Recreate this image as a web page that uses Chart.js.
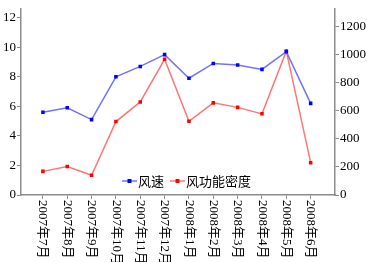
<!DOCTYPE html>
<html>
<head>
<meta charset="utf-8">
<script src="https://cdn.jsdelivr.net/npm/chart.js@4/dist/chart.umd.min.js"></script>
<style>
  html, body { margin: 0; padding: 0; background: #fff; }
  canvas { display: block; }
</style>
</head>
<body>
<canvas id="c" width="367" height="262"></canvas>
<script>
// data
const months = ['2007年7月', '2007年8月', '2007年9月', '2007年10月', '2007年11月', '2007年12月',
                '2008年1月', '2008年2月', '2008年3月', '2008年4月', '2008年5月', '2008年6月'];
const windSpeed = [5.6, 5.9, 5.1, 8.0, 8.7, 9.5, 7.9, 8.9, 8.8, 8.5, 9.7, 6.2];
const powerDensity = [168, 202, 140, 522, 662, 965, 524, 655, 623, 577, 1023, 230];
const leftTicks = [0, 2, 4, 6, 8, 10, 12];
const rightTicks = [0, 200, 400, 600, 800, 1000, 1200];

const seriesNames = ['风速', '风功能密度'];
const lineColors = ['#7272ff', '#ff7676'];
const dotColors = ['#0000ff', '#ff0000'];

const axisGray = '#8c8c8c';

// x labels read top-to-bottom, so draw them ourselves
const monthLabels = {
  id: 'monthLabels',
  afterDraw(chart) {
    const { ctx } = chart;
    const xs = chart.scales.x;
    ctx.save();
    ctx.font = '13px "Liberation Serif", "Noto Sans CJK SC", serif';
    ctx.fillStyle = '#000';
    ctx.textAlign = 'left';
    ctx.textBaseline = 'middle';
    months.forEach((m, i) => {
      const px = xs.getPixelForValue(i);
      ctx.save();
      ctx.translate(px, xs.top + 5);
      ctx.rotate(Math.PI / 2);
      ctx.fillText(m, 0, 0);
      ctx.restore();
    });
    ctx.restore();
  }
};

// legend sits inside the plot, near the bottom
const innerLegend = {
  id: 'innerLegend',
  afterDraw(chart) {
    const { ctx } = chart;
    const y = 181;
    let x = 122;
    ctx.save();
    ctx.font = '13px "Noto Sans CJK SC", sans-serif';
    ctx.textBaseline = 'middle';
    seriesNames.forEach((name, i) => {
      ctx.strokeStyle = lineColors[i];
      ctx.lineWidth = 1.5;
      ctx.beginPath();
      ctx.moveTo(x, y);
      ctx.lineTo(x + 15, y);
      ctx.stroke();
      ctx.fillStyle = dotColors[i];
      ctx.fillRect(x + 5.5, y - 2, 4, 4);
      ctx.fillStyle = '#000';
      ctx.fillText(name, x + 16, y);
      x += 16 + ctx.measureText(name).width + 6;
    });
    ctx.restore();
  }
};

function onlyTicks(list) {
  return scale => { scale.ticks = list.map(v => ({ value: v })); };
}

const tickFont = { family: '"Liberation Serif", serif', size: 13 };

new Chart(document.getElementById('c'), {
  type: 'line',
  data: {
    datasets: [
      {
        label: seriesNames[0],
        data: windSpeed.map((v, i) => ({ x: i, y: v })),
        yAxisID: 'y',
        borderColor: lineColors[0],
        borderWidth: 1.5,
        pointStyle: 'rect',
        pointRadius: 2.5,
        pointBackgroundColor: dotColors[0],
        pointBorderColor: dotColors[0],
        pointBorderWidth: 0
      },
      {
        label: seriesNames[1],
        data: powerDensity.map((v, i) => ({ x: i, y: v })),
        yAxisID: 'y1',
        borderColor: lineColors[1],
        borderWidth: 1.5,
        pointStyle: 'rect',
        pointRadius: 2.5,
        pointBackgroundColor: dotColors[1],
        pointBorderColor: dotColors[1],
        pointBorderWidth: 0
      }
    ]
  },
  options: {
    responsive: false,
    animation: false,
    layout: { padding: { top: 3, left: 0, right: 0, bottom: 0 } },
    plugins: { legend: { display: false }, tooltip: { enabled: false } },
    scales: {
      x: {
        type: 'linear',
        min: -0.9,
        max: 12,
        afterBuildTicks: onlyTicks(months.map((_, i) => i)),
        afterFit: s => { s.height = 67; },
        ticks: { display: false },
        grid: { drawOnChartArea: false, color: axisGray, tickLength: 4, lineWidth: 1 },
        border: { color: axisGray, width: 1.5 }
      },
      y: {
        position: 'left',
        min: 0,
        max: 12.6,
        afterBuildTicks: onlyTicks(leftTicks),
        afterFit: s => { s.width = 21; },
        ticks: { color: '#000', font: tickFont, padding: 1, callback: v => String(v) },
        grid: { drawOnChartArea: false, color: axisGray, tickLength: 4, lineWidth: 1 },
        border: { color: axisGray, width: 1.5 }
      },
      y1: {
        position: 'right',
        min: 0,
        max: 1324,
        afterBuildTicks: onlyTicks(rightTicks),
        afterFit: s => { s.width = 32; },
        ticks: { color: '#000', font: tickFont, padding: 1, callback: v => String(v) },
        grid: { drawOnChartArea: false, color: axisGray, tickLength: 4, lineWidth: 1 },
        border: { color: axisGray, width: 1.5 }
      }
    }
  },
  plugins: [monthLabels, innerLegend]
});
</script>
</body>
</html>
